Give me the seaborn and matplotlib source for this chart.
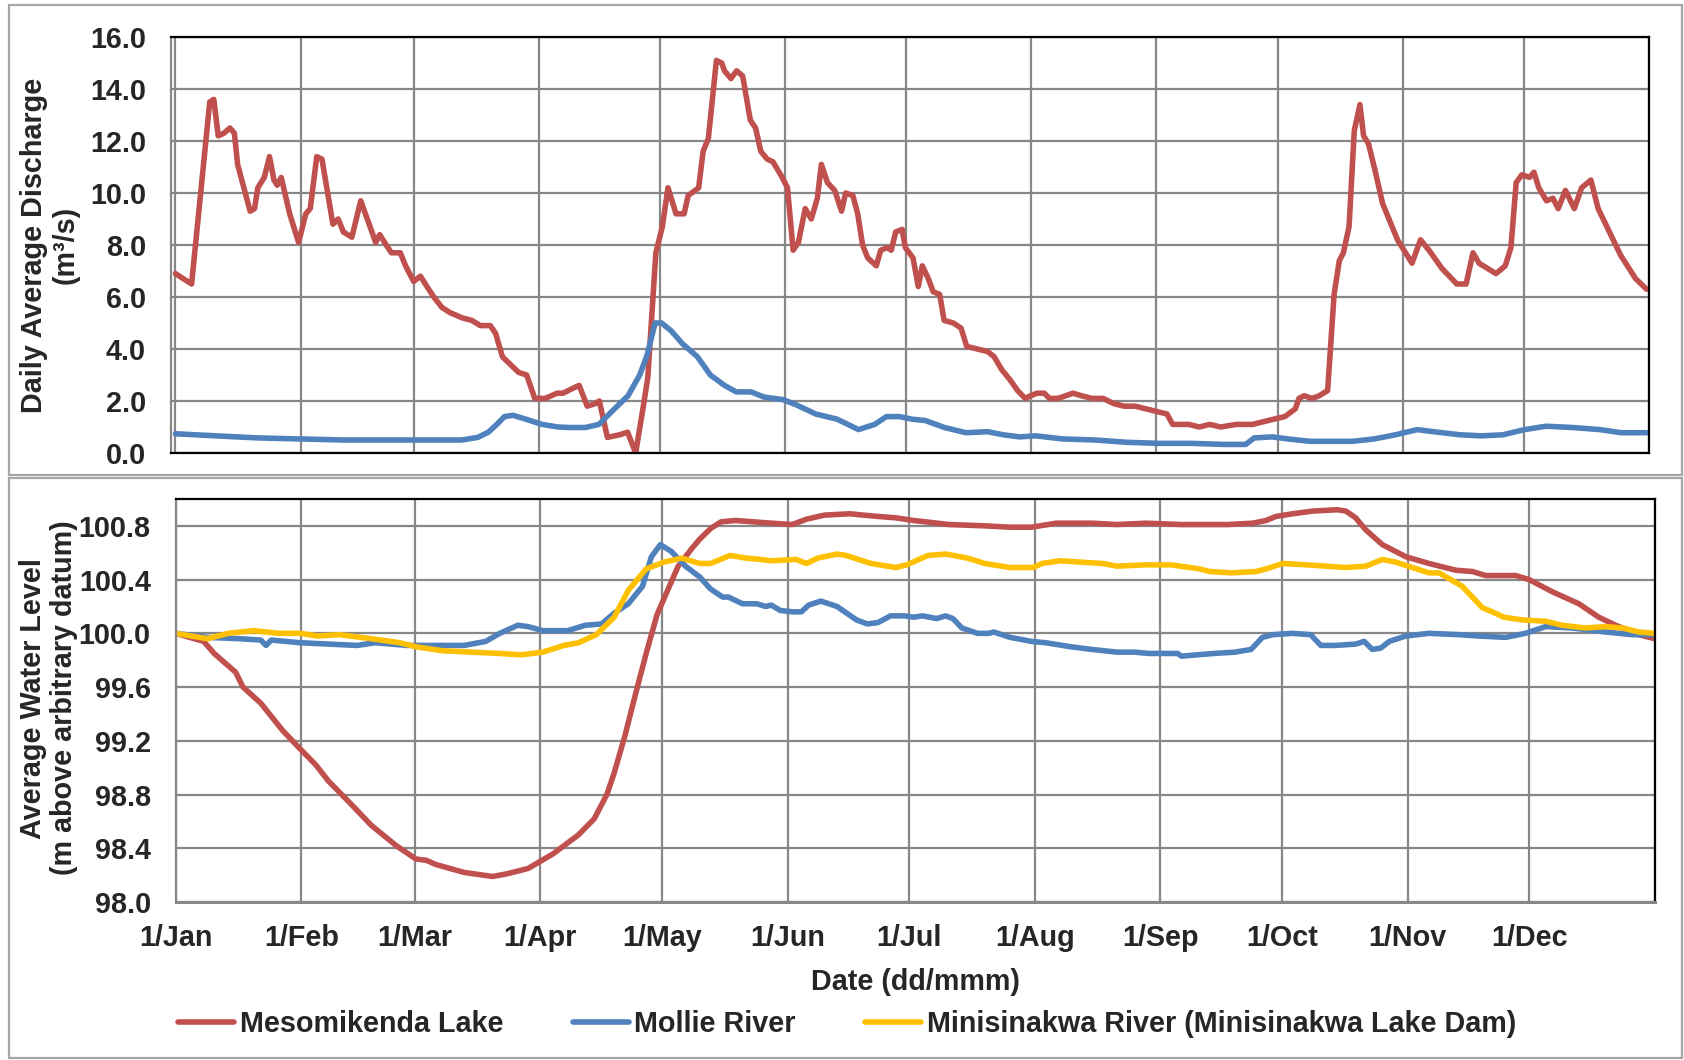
import matplotlib
matplotlib.use("Agg")
import matplotlib.pyplot as plt
import matplotlib.patches as patches
from matplotlib.lines import Line2D
import seaborn as sns

# day of year (0 = 1 Jan) and values
meso_q_day = [0, 1, 4, 6, 8.5, 9.5, 10.6, 12, 13.5, 14.6, 15.4, 18.5, 19.6, 20.4, 22, 23.3, 24.4, 25.2, 26.2,
              28.3, 30.5, 32.3, 33.4, 35, 36.3, 39, 40.3, 41.6, 43.7, 45.9, 49.6, 50.6, 52.2, 53.5, 55.7, 57,
              59, 60.7, 62.3, 64, 66, 68, 71, 73.4, 75.5, 78, 79.3, 81, 83, 85, 87, 89, 91.6, 94.5, 96, 98.6,
              100, 102, 104, 105, 107, 110, 112, 114, 116, 117, 119, 120.6, 122, 124, 126, 127, 129.6, 130.7,
              132, 134, 135.3, 136, 137.6, 139, 140.5, 142.4, 143.7, 145, 146.6, 148, 150.3, 151.6, 153,
              154.3, 156, 157.5, 159, 160, 161.5, 163.3, 165, 166, 167.8, 169, 170.2, 171.5, 173.6, 174.7,
              176.3, 177.3, 178.4, 180, 180.8, 182.7, 184, 185, 186.5, 187.7, 189.3, 190.4, 192.7, 194.6,
              196, 198.6, 201.2, 202.8, 204.7, 206.8, 208.6, 210.5, 211.8, 213.4, 215.2, 216.5, 218.6, 220.5,
              222.3, 224.5, 227, 229.8, 232.4, 235, 237.7, 240.4, 243, 245.6, 247, 251, 253.6, 256.2, 258.9,
              262.8, 266.8, 269.4, 272, 274.8, 277.4, 278.3, 279.6, 281.5, 283.3, 285.4, 287, 288.3, 289.3,
              290.7, 292, 293.4, 294.3, 295.5, 297.1, 299, 302.7, 306.3, 308.4, 310.5, 313.7, 317.4, 319.7,
              321.4, 322.9, 327.1, 329.4, 330.8, 332.1, 333.5, 335.4, 336.5, 337.7, 339.6, 341.2, 342.5,
              344.3, 346.5, 348.3, 350.6, 352.4, 355.2, 358, 361.7, 364.4]
meso_q = [6.9, 6.8, 6.5, 9.6, 13.5, 13.6, 12.2, 12.3, 12.5, 12.3, 11.1, 9.3, 9.4, 10.2, 10.6, 11.4, 10.5, 10.3, 10.6,
          9.2, 8.1, 9.2, 9.4, 11.4, 11.3, 8.8, 9.0, 8.5, 8.3, 9.7, 8.1, 8.4, 8.0, 7.7, 7.7, 7.2,
          6.6, 6.8, 6.4, 6.0, 5.6, 5.4, 5.2, 5.1, 4.9, 4.9, 4.6, 3.7, 3.4, 3.1, 3.0, 2.1, 2.1, 2.3, 2.3, 2.5,
          2.6, 1.8, 1.9, 2.0, 0.6, 0.7, 0.8, 0.0, 1.9, 2.9, 7.7, 8.7, 10.2, 9.2, 9.2, 9.9, 10.2, 11.6,
          12.1, 15.1, 15.0, 14.7, 14.4, 14.7, 14.5, 12.8, 12.5, 11.6, 11.3, 11.2, 10.6, 10.2, 7.8,
          8.1, 9.4, 9.0, 9.8, 11.1, 10.4, 10.1, 9.3, 10.0, 9.9, 9.2, 8.0, 7.5, 7.2, 7.8,
          7.9, 7.8, 8.5, 8.6, 7.9, 7.5, 6.4, 7.2, 6.7, 6.2, 6.1, 5.1, 5.0, 4.8,
          4.1, 4.0, 3.9, 3.7, 3.2, 2.8, 2.4, 2.1, 2.2, 2.3, 2.3, 2.1, 2.1, 2.2,
          2.3, 2.2, 2.1, 2.1, 1.9, 1.8, 1.8, 1.7, 1.6, 1.5, 1.1, 1.1, 1.0, 1.1, 1.0,
          1.1, 1.1, 1.2, 1.3, 1.4, 1.7, 2.1, 2.2, 2.1, 2.2, 2.4, 6.1, 7.4, 7.7,
          8.7, 12.4, 13.4, 12.2, 11.9, 10.9, 9.6, 8.2, 7.3, 8.2, 7.8, 7.1, 6.5, 6.5,
          7.7, 7.3, 6.9, 7.2, 7.9, 10.4, 10.7, 10.6, 10.8, 10.2, 9.7, 9.8, 9.4,
          10.1, 9.4, 10.2, 10.5, 9.4, 8.5, 7.6, 6.7, 6.3]

mollie_q_day = [0, 10, 20.4, 31, 41.6, 52.3, 62.9, 70.9, 74.9, 77.5, 79.6, 81.5, 83.6, 86.8, 90.8, 94.8, 97.5,
                101.5, 104.9, 108.1, 112.1, 115, 116.9, 118.8, 120.4, 122.8, 125.6, 129.3, 132.5, 136, 138.9,
                142.6, 145.8, 150.6, 153.8, 158.6, 163.9, 169.2, 173.2, 176.1, 179.3, 182.5, 185.7, 190.5,
                195.8, 201.1, 205.1, 209.1, 213.1, 219.8, 227.8, 235.8, 243.8, 251.7, 259.7, 265.1, 267.2,
                271.7, 275.6, 281, 291.6, 296.9, 302.2, 307.6, 311.6, 318.2, 323.5, 328.8, 334.2, 339.5,
                346.1, 352.8, 358.1, 364.7]
mollie_q = [0.74, 0.66, 0.58, 0.54, 0.5, 0.5, 0.5, 0.5, 0.6, 0.8, 1.1, 1.4, 1.45, 1.3, 1.1, 1.0, 0.98,
            0.98, 1.1, 1.6, 2.2, 3.0, 3.8, 5.0, 5.0, 4.7, 4.2, 3.7, 3.0, 2.6, 2.35,
            2.35, 2.15, 2.05, 1.85, 1.5, 1.3, 0.9, 1.1, 1.4, 1.4, 1.3, 1.25, 0.98,
            0.78, 0.82, 0.7, 0.62, 0.66, 0.54, 0.5, 0.41, 0.37, 0.37, 0.33, 0.33, 0.58,
            0.62, 0.54, 0.45, 0.45, 0.54, 0.7, 0.9, 0.82, 0.7, 0.66, 0.7, 0.9, 1.03,
            0.98, 0.9, 0.78, 0.78]

meso_wl_day = [0, 6.9, 9.5, 14.8, 16.6, 21, 26.3, 30.7, 34.6, 37.7, 42.6, 48.3, 54.4, 59.3, 61.9, 64.1, 71.2,
               78.2, 81.8, 87, 93.2, 99.4, 103.3, 106.4, 108.2, 110.8, 113.5, 116.1, 118.8, 121.4, 124,
               127.6, 129.3, 132, 134.6, 138.1, 147, 152.2, 155.7, 160.1, 166.3, 173.3, 177.7, 182.1,
               190.9, 199.7, 205.9, 211.2, 217.3, 226.1, 232.3, 239.4, 248.2, 259.6, 265.8, 269.1, 271.5,
               275.6, 280.6, 286.7, 288.8, 291.2, 293.7, 297.8, 303.6, 309.3, 315.9, 320, 323.3, 330.7,
               334, 339.7, 346.3, 351.2, 355.4, 361.1, 365]
meso_wl = [100.0, 99.94, 99.85, 99.71, 99.60, 99.48, 99.28, 99.14, 99.02, 98.90, 98.75, 98.57, 98.42, 98.32,
           98.31, 98.28, 98.22, 98.19, 98.21, 98.25, 98.36, 98.50, 98.62, 98.80, 98.96, 99.23, 99.55, 99.85,
           100.14, 100.32, 100.50, 100.64, 100.70, 100.78, 100.83, 100.84, 100.82, 100.81, 100.85, 100.88,
           100.89, 100.87, 100.86, 100.84, 100.81, 100.80, 100.79, 100.79, 100.82, 100.82, 100.81, 100.82,
           100.81, 100.81, 100.82, 100.84, 100.87, 100.89, 100.91, 100.92, 100.91, 100.86, 100.77, 100.66,
           100.57, 100.52, 100.47, 100.46, 100.43, 100.43, 100.40, 100.31, 100.22, 100.12, 100.06, 99.99,
           99.96]

mollie_wl_day = [0, 7.8, 15.7, 21, 22.3, 23.6, 30.7, 37.7, 44.8, 49.2, 57.1, 64.1, 71.2, 76.5, 80, 84.4, 87,
                 90.6, 96.7, 101.1, 105.1, 108.2, 111.7, 115.2, 117.4, 119.6, 122.3, 125.8, 129.3, 132, 135,
                 136.4, 139.9, 143.4, 145.6, 147, 149.2, 152.2, 154.4, 156.2, 159.2, 163.2, 168, 170.7,
                 173.3, 176.4, 179.9, 182.1, 184.3, 187.8, 190, 191.8, 194, 197.9, 200.6, 201.9, 205.9,
                 211.2, 214.7, 220.9, 226.1, 232.3, 236.7, 240.2, 247.3, 248.2, 256.1, 261.4, 265.4, 268.2,
                 270.7, 275.6, 280.1, 282.6, 286.3, 291.2, 293.3, 295.3, 297.4, 299.5, 303.6, 309.3, 316.7,
                 321.6, 328.2, 333.1, 338.1, 344.6, 352.9, 359.4, 365]
mollie_wl = [100.0, 99.97, 99.96, 99.95, 99.91, 99.95, 99.93, 99.92, 99.91, 99.93, 99.91, 99.91, 99.91, 99.94,
             100.0, 100.06, 100.05, 100.02, 100.02, 100.06, 100.07, 100.15, 100.22, 100.35, 100.57, 100.66,
             100.61, 100.50, 100.42, 100.33, 100.27, 100.27, 100.22, 100.22, 100.20, 100.21, 100.17, 100.16,
             100.16, 100.21, 100.24, 100.20, 100.10, 100.07, 100.08, 100.13, 100.13, 100.12, 100.13, 100.11,
             100.13, 100.11, 100.04, 100.0, 100.0, 100.01, 99.97, 99.94, 99.93, 99.90, 99.88, 99.86, 99.86,
             99.85, 99.85, 99.83, 99.85, 99.86, 99.88, 99.97, 99.99, 100.0, 99.99, 99.91, 99.91, 99.92, 99.94,
             99.88, 99.89, 99.94, 99.98, 100.0, 99.99, 99.98, 99.97, 100.0, 100.05, 100.04, 100.01, 99.99,
             99.99]

mini_wl_day = [0, 7.8, 13, 19.2, 25.4, 30.7, 35.1, 40.4, 48.3, 55.3, 59.3, 65.9, 73, 80, 85.3, 90.6, 95.8,
               99.4, 103.8, 108.2, 111.7, 116.1, 120.5, 124.9, 129.3, 132, 136.8, 140.8, 144.3, 147, 153.1,
               155.7, 158.4, 163.2, 165.4, 171.6, 177.7, 180.4, 185.7, 190.1, 195.4, 199.7, 205.9, 211.6,
               213.8, 218.2, 223.5, 228.8, 232.3, 239.4, 245.5, 252.6, 255.2, 260.5, 266.6, 269.1, 273.2,
               279, 283.9, 288.8, 293.7, 297.8, 301.1, 305.2, 309.3, 311.8, 317.5, 320, 322.5, 324.9, 327.8,
               332.3, 338.1, 342.2, 347.9, 352.9, 357, 361.1, 365]
mini_wl = [100.0, 99.96, 100.0, 100.02, 100.0, 100.0, 99.98, 99.99, 99.96, 99.93, 99.90, 99.87, 99.86, 99.85,
           99.84, 99.86, 99.91, 99.93, 99.99, 100.12, 100.32, 100.48, 100.53, 100.56, 100.52, 100.52, 100.58,
           100.56, 100.55, 100.54, 100.55, 100.52, 100.56, 100.59, 100.58, 100.52, 100.49, 100.51, 100.58,
           100.59, 100.56, 100.52, 100.49, 100.49, 100.52, 100.54, 100.53, 100.52, 100.50, 100.51, 100.51,
           100.48, 100.46, 100.45, 100.46, 100.48, 100.52, 100.51, 100.50, 100.49, 100.50, 100.55, 100.53,
           100.49, 100.45, 100.45, 100.35, 100.27, 100.19, 100.16, 100.12, 100.10, 100.09, 100.06, 100.04,
           100.05, 100.04, 100.01, 100.0]

month_days = [0, 31, 59, 90, 120, 151, 181, 212, 243, 273, 304, 334, 365]
month_labels = ['1/Jan', '1/Feb', '1/Mar', '1/Apr', '1/May', '1/Jun', '1/Jul', '1/Aug', '1/Sep',
                '1/Oct', '1/Nov', '1/Dec', '']
q_ticks = [0, 2, 4, 6, 8, 10, 12, 14, 16]
wl_ticks = [98.0, 98.4, 98.8, 99.2, 99.6, 100.0, 100.4, 100.8]

series_names = ['Mesomikenda Lake', 'Mollie River', 'Minisinakwa River (Minisinakwa Lake Dam)']

RED = '#C0504D'
BLUE = '#4F81BD'
GOLD = '#FFC000'
GRID = '#878787'
LW = 4.0
FS = 20.7

sns.set_style("white")
plt.rcParams['font.family'] = ['Liberation Sans', 'DejaVu Sans']
plt.rcParams['font.weight'] = 'bold'
plt.rcParams['font.size'] = FS

fig = plt.figure(figsize=(16.84, 10.60), dpi=100)
ax1 = fig.add_axes([171 / 1684, 1 - 453 / 1060, 1478 / 1684, 416 / 1060])
ax2 = fig.add_axes([175.7 / 1684, 1 - 902 / 1060, 1479 / 1684, 403 / 1060])

# top: discharge
sns.lineplot(x=meso_q_day, y=meso_q, ax=ax1, color=RED, lw=LW, estimator=None)
sns.lineplot(x=mollie_q_day, y=mollie_q, ax=ax1, color=BLUE, lw=LW, estimator=None)

# bottom: water level
sns.lineplot(x=meso_wl_day, y=meso_wl, ax=ax2, color=RED, lw=LW, estimator=None)
sns.lineplot(x=mollie_wl_day, y=mollie_wl, ax=ax2, color=BLUE, lw=LW, estimator=None)
sns.lineplot(x=mini_wl_day, y=mini_wl, ax=ax2, color=GOLD, lw=LW, estimator=None)

ax1.set_xlim(-1.1, 365)
ax1.set_ylim(0, 16)
ax1.set_xticks(month_days)
ax1.set_yticks(q_ticks)
ax1.set_yticklabels([f'{v:.1f}' for v in q_ticks])
ax1.tick_params(axis='x', length=0, labelbottom=False)

ax2.set_xlim(0, 365)
ax2.set_ylim(98.0, 101.0)
ax2.set_xticks(month_days)
ax2.set_xticklabels(month_labels)
ax2.set_yticks(wl_ticks)
ax2.set_yticklabels([f'{v:.1f}' for v in wl_ticks])
ax2.tick_params(axis='x', length=9, width=1.6, color=GRID, pad=7, labelsize=FS)

for ax in (ax1, ax2):
    ax.grid(True, color=GRID, lw=1.6)
    ax.set_axisbelow(True)
    ax.tick_params(axis='y', length=6, width=1.6, color=GRID, pad=12, labelsize=FS)
    for s in ax.spines.values():
        s.set_visible(True)
        s.set_color('black')
        s.set_linewidth(1.6)
    ax.spines['left'].set_color(GRID)
ax2.spines['bottom'].set_color(GRID)
ax2.spines['bottom'].set_linewidth(2.2)

ax1.set_ylabel('Daily Average Discharge\n(m³/s)', fontsize=FS, fontweight='bold', linespacing=1.15)
ax1.yaxis.set_label_coords(-0.062, 0.5)
ax2.set_ylabel('Average Water Level\n(m above arbitrary datum)', fontsize=FS, fontweight='bold',
               linespacing=1.15)
ax2.yaxis.set_label_coords(-0.066, 0.506)
ax2.set_xlabel('Date (dd/mmm)', fontsize=FS, fontweight='bold')
ax2.xaxis.set_label_coords(0.5, -0.165)

# outer panel frames
for top, bottom in ((5, 475), (478, 1058)):
    fig.add_artist(patches.Rectangle((9 / 1684, 1 - bottom / 1060), 1673 / 1684, (bottom - top) / 1060,
                                     transform=fig.transFigure, fill=False, ec='#A6A6A6', lw=1.6))

handles = [Line2D([], [], color=c, lw=LW) for c in (RED, BLUE, GOLD)]
fig.legend(handles, series_names, loc='center', bbox_to_anchor=(0.503, 1 - 1024 / 1060), ncol=3,
           frameon=False, prop={'weight': 'bold', 'size': FS}, handlelength=1.95, handletextpad=0.2,
           columnspacing=2.4)

fig.savefig('out.png', dpi=100)
